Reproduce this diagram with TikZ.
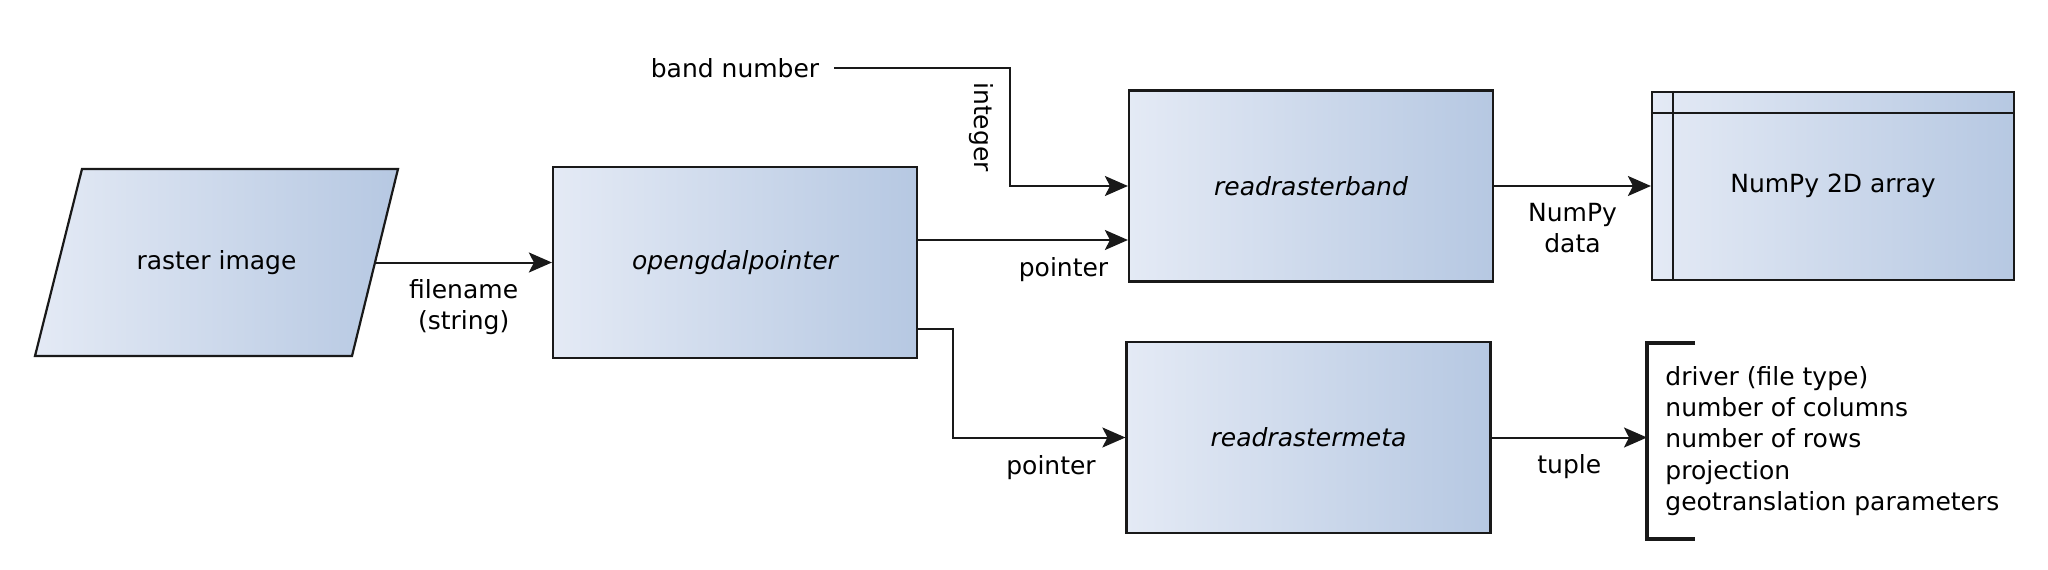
\documentclass[tikz,border=0pt]{standalone}
\usepackage{fontspec}
\setmainfont{DejaVu Sans}
\usetikzlibrary{arrows.meta,positioning}
\definecolor{boxlight}{RGB}{228,234,245}
\definecolor{boxdark}{RGB}{182,200,226}
\definecolor{edge}{RGB}{25,25,25}
\newcommand{\dfont}{\fontsize{12.5}{15.5}\selectfont}
\tikzstyle{shade} = [draw=edge, line width=1.1pt, left color=boxlight, right color=boxdark]
\tikzstyle{func} = [shade, minimum width=182pt, minimum height=95.5pt, font={\dfont\itshape}]
\tikzstyle{upright} = [font={\dfont}]
\tikzstyle{plain} = [font={\dfont}]
\tikzstyle{lbl} = [font={\dfont}, align=center]
\tikzstyle{flow} = [draw=edge, line width=1pt, -{Stealth[length=11.5pt,width=10pt,inset=2.5pt]}]

\begin{document}
\begin{tikzpicture}[x=0.5pt,y=0.5pt]
    \useasboundingbox (0,0) rectangle (2048,569);
    \draw[shade] (35,213) -- (352,213) -- (398,400) -- (82,400) -- cycle;
    \node[plain,minimum width=158.5pt,minimum height=93.5pt](raster) at (216.5,306.5){raster image};
    \node[func](open) at (735,306.5){opengdalpointer};
    \node[func](band) at (1311,383){readrasterband};
    \node[func](meta) at (1308.5,131.5){readrastermeta};
    \node[func,upright,minimum width=181pt,minimum height=94pt](arr) at (1833,383){NumPy 2D array};
    \draw[draw=edge,line width=1.1pt] ([yshift=-11pt]arr.north west) -- ([yshift=-11pt]arr.north east);
    \draw[draw=edge,line width=1.1pt] ([xshift=11pt]arr.north west) -- ([xshift=11pt]arr.south west);
    \node[plain](bandno) at (735,501){band number};
    \node[plain,align=left,anchor=west,minimum height=97.5pt,inner xsep=9pt,
      font={\fontsize{12.5}{15.6}\selectfont}](attrs) at (1647,128)
      {driver (file type)\\number of columns\\number of rows\\projection\\geotranslation parameters};
    \draw[draw=edge,line width=2pt] ([xshift=24pt]attrs.north west) -- (attrs.north west)
      -- (attrs.south west) -- ([xshift=24pt]attrs.south west);
    \coordinate (ptrA) at ([yshift=11.25pt]open.east);
    \coordinate (ptrB) at ([yshift=-33pt]open.east);
    \coordinate (bend) at (1009.6,501);
    \draw[flow](raster) -- (open) node[lbl,midway,below=4.8pt]{filename\\(string)};
    \draw[flow](ptrA) -- (ptrA -| band.west) node[lbl,below left=4.8pt and 6pt]{pointer};
    \draw[flow,shorten <=4pt](bandno) -- (bend)
      -- node[lbl,xshift=-4pt,rotate=-90,anchor=north]{integer} (bend |- band.west) -- (band.west);
    \draw[flow](ptrB) -- ++(35,0) |- (meta.west) node[lbl,below left=5pt and 11pt]{pointer};
    \draw[flow](band) -- (arr) node[lbl,midway,below=4.8pt]{NumPy\\data};
    \draw[flow](meta) -- (meta -| attrs.west) node[lbl,midway,below=4.8pt]{tuple};
\end{tikzpicture}
\end{document}
